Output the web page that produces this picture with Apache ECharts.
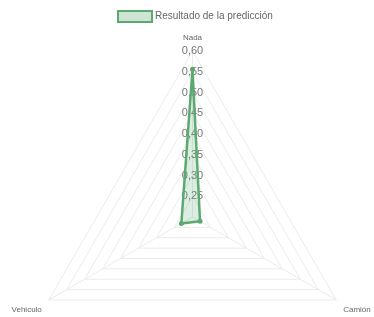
<!DOCTYPE html>
<html lang="es">
<head>
  <meta charset="UTF-8">
  <title>Resultado de la predicción</title>
  <script src="https://cdn.jsdelivr.net/npm/echarts@6/dist/echarts.min.js"></script>
  <style>
    html, body { margin: 0; padding: 0; background: #fff; }
    #main { width: 374px; height: 317px; }
  </style>
</head>
<body>
  <div id="main"></div>
  <script>
    // categorias en orden de la red (arriba, abajo-izq, abajo-der)
    var categories = ['Nada', 'Vehiculo', 'Camión'];
    var values = [0.556, 0.231, 0.221];
    var seriesName = 'Resultado de la predicción';
    var tickLabels = ['0,25', '0,30', '0,35', '0,40', '0,45', '0,50', '0,55', '0,60'];
    var axisMin = 0.2, axisMax = 0.6;

    var green = 'rgb(92, 170, 112)';
    var greenFill = 'rgba(92, 170, 112, 0.3)';
    var font = '"Liberation Sans", Arial, sans-serif';

    var chart = echarts.init(document.getElementById('main'));

    var indicators = categories.map(function (name, i) {
      var ind = { name: name, min: axisMin, max: axisMax };
      if (i === 0) {
        ind.axisLabel = {
          show: true,
          color: '#777',
          fontSize: 11,
          fontFamily: font,
          margin: 0,
          align: 'center',
          formatter: function (v) {
            var idx = Math.round((v - axisMin) / 0.05) - 1;
            return idx >= 0 ? tickLabels[idx] : '';
          }
        };
      }
      return ind;
    });

    chart.setOption({
      animation: false,
      legend: {
        top: 5,
        left: 112,
        itemWidth: 34,
        itemHeight: 11,
        itemGap: 4,
        textStyle: { color: '#666', fontSize: 10, fontFamily: font, padding: [0, 0, 0, -2] },
        data: [{
          name: seriesName,
          icon: 'rect',
          itemStyle: { color: greenFill, borderColor: green, borderWidth: 2 }
        }]
      },
      radar: {
        center: [192.5, 217],
        radius: 166,
        shape: 'polygon',
        splitNumber: 8,
        startAngle: 90,
        nameGap: 8,
        axisName: {
          color: '#666', fontSize: 8, fontFamily: font, lineHeight: 11,
          // las de abajo van un poco mas bajas
          formatter: function (name) {
            return name === categories[0] ? name : '\n' + name;
          }
        },
        axisLine: { lineStyle: { color: '#ebebeb', width: 1 } },
        splitLine: { lineStyle: { color: '#ebebeb', width: 1 } },
        splitArea: { show: false },
        axisTick: { show: false },
        axisLabel: { show: false },
        indicator: indicators
      },
      series: [{
        type: 'radar',
        name: seriesName,
        symbol: 'circle',
        symbolSize: 5,
        lineStyle: { color: green, width: 2.5 },
        itemStyle: { color: green },
        areaStyle: { color: greenFill },
        data: [{ name: seriesName, value: values }]
      }]
    });
  </script>
</body>
</html>
